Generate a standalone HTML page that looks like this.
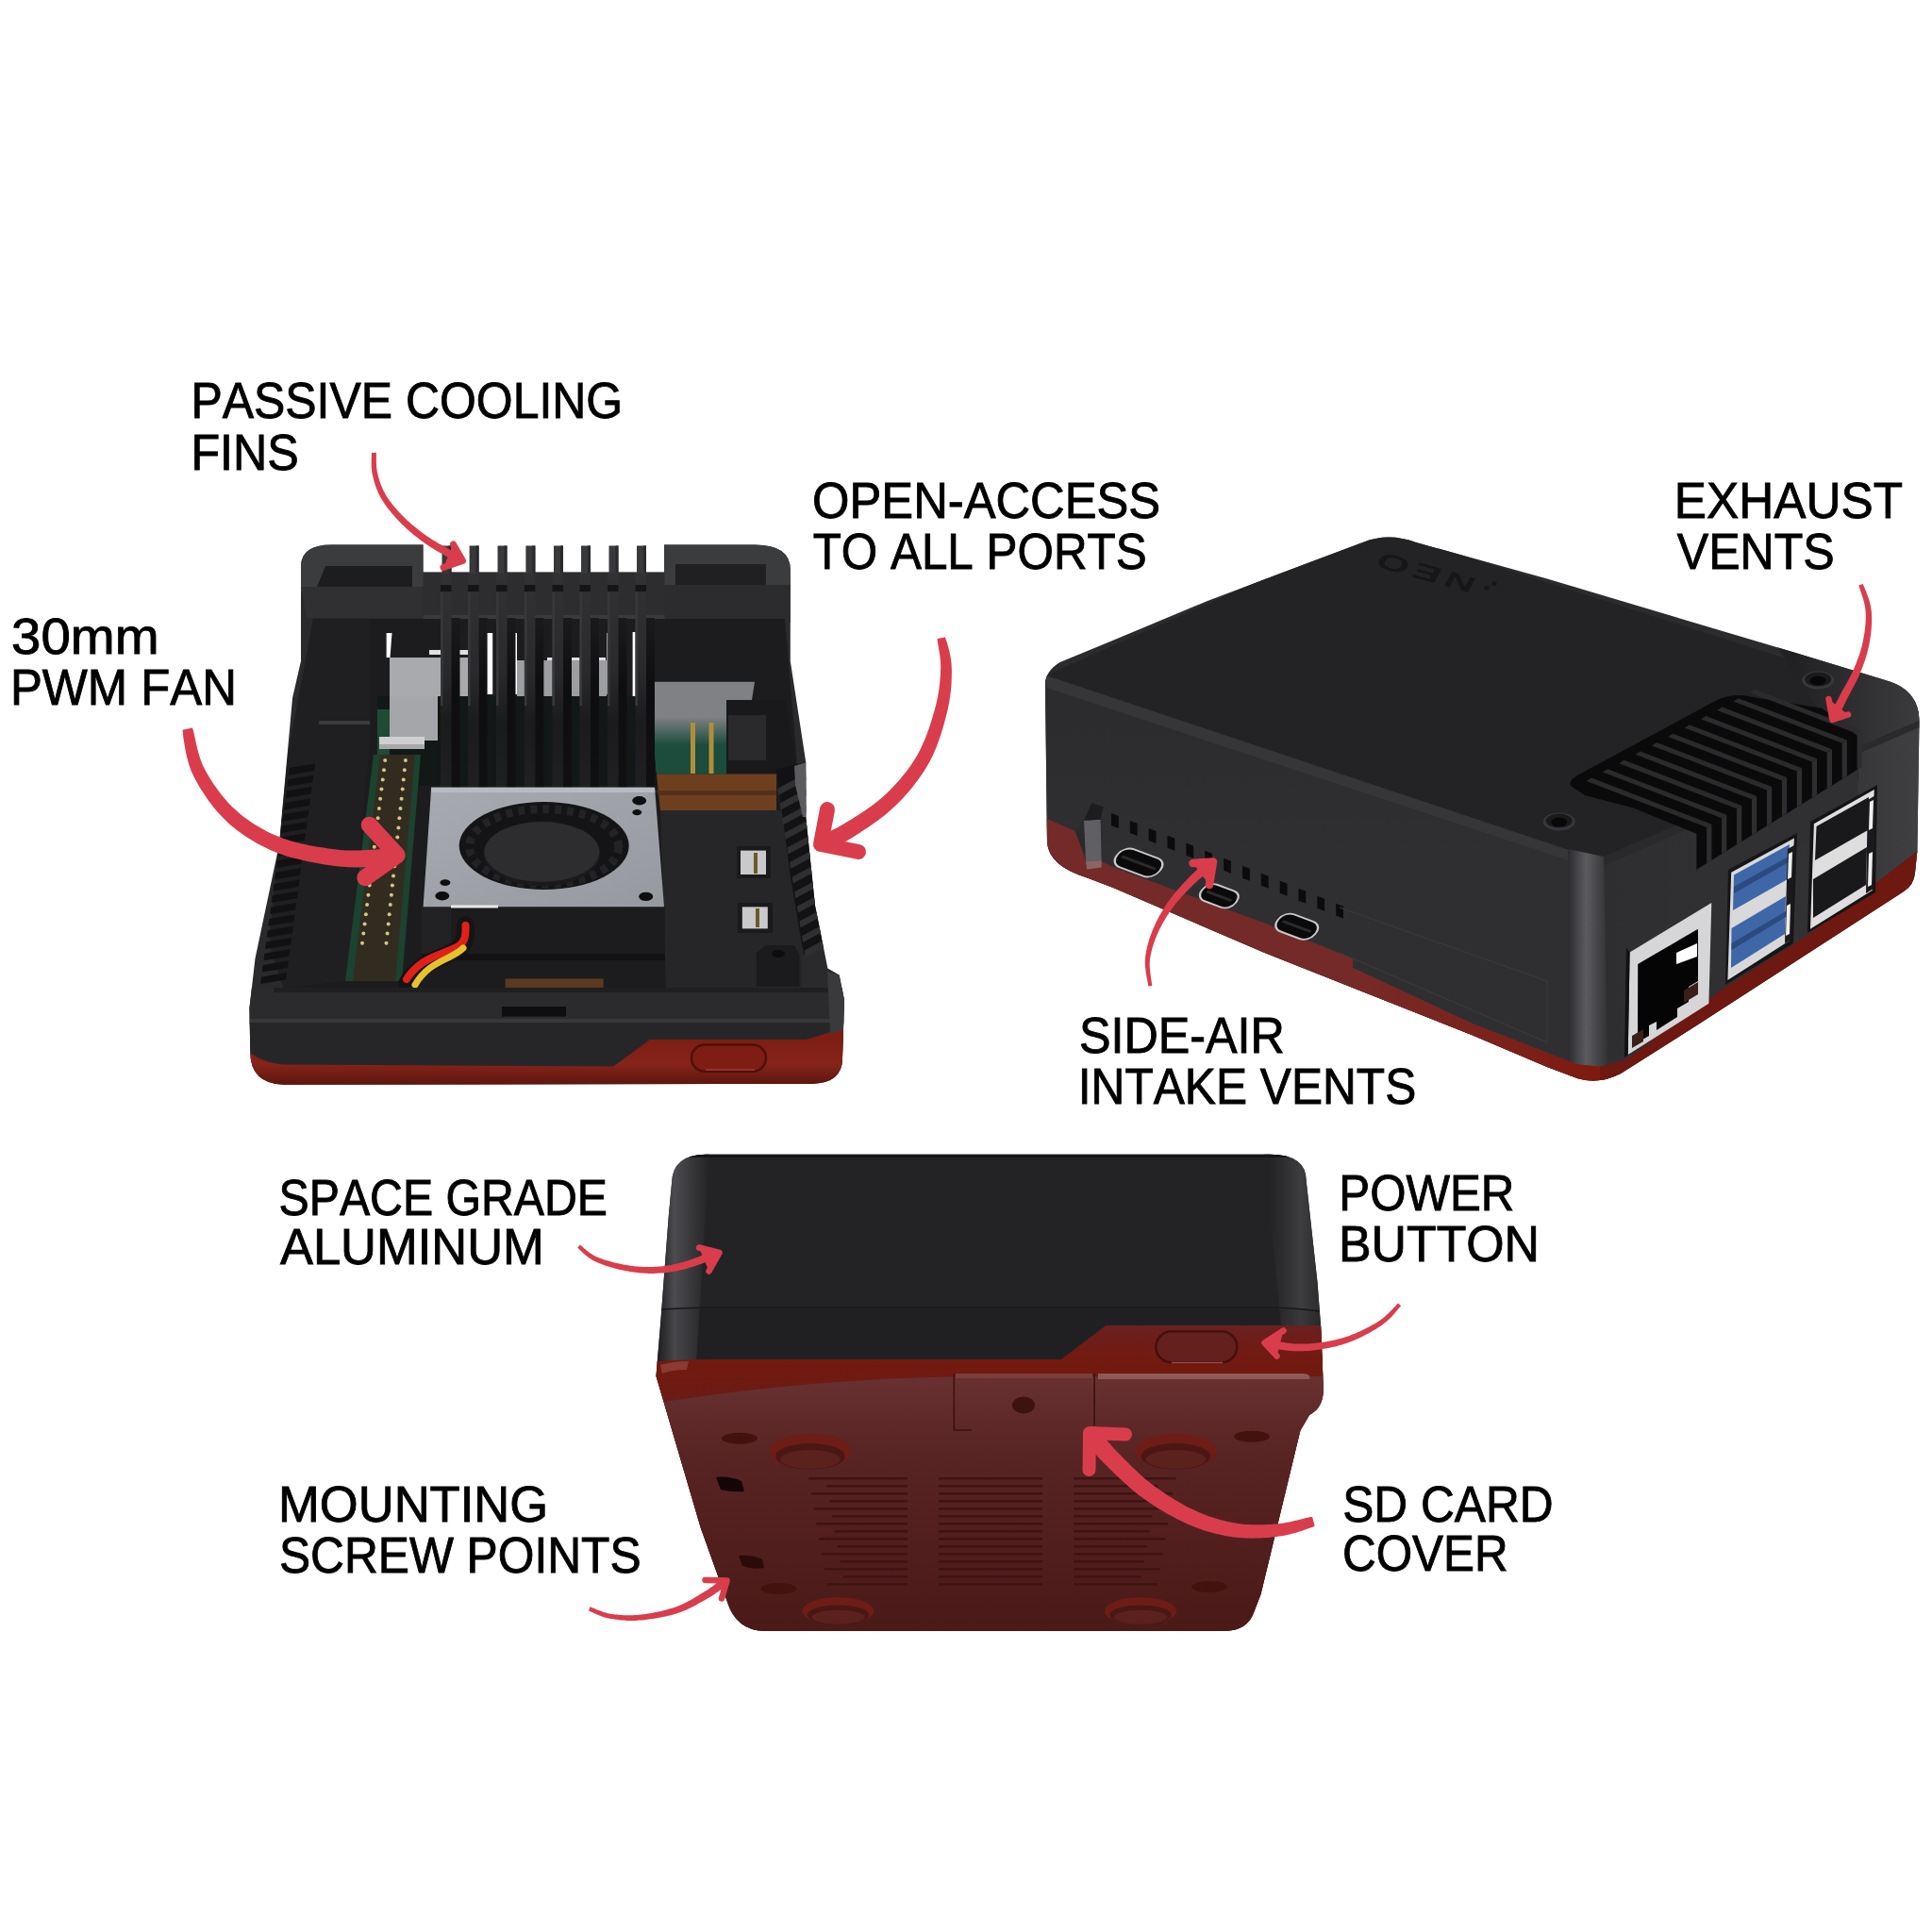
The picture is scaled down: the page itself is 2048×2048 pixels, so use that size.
<!DOCTYPE html>
<html><head><meta charset="utf-8"><title>Case features</title>
<style>
html,body{margin:0;padding:0;background:#fff;}
body{width:2048px;height:2048px;overflow:hidden;}
svg{display:block;}
text{font-family:"Liberation Sans",sans-serif;font-size:53.8px;fill:#000;font-kerning:none;stroke:#000;stroke-width:0.9px;}
</style></head><body>
<svg width="2048" height="2048" viewBox="0 0 2048 2048">
<defs>
<linearGradient id="gfin" x1="0" y1="607" x2="0" y2="835" gradientUnits="userSpaceOnUse"><stop offset="0" stop-color="#323234"/><stop offset="0.45" stop-color="#2a2a2c"/><stop offset="0.7" stop-color="#1b1b1d"/><stop offset="1" stop-color="#202022"/></linearGradient>
<linearGradient id="gfinside" x1="0" y1="655" x2="0" y2="835" gradientUnits="userSpaceOnUse"><stop offset="0" stop-color="#1a1a1c"/><stop offset="0.4" stop-color="#0e0e10"/><stop offset="1" stop-color="#101012"/></linearGradient>
<linearGradient id="gfan" x1="0" y1="0" x2="1" y2="1"><stop offset="0" stop-color="#a8aab2"/><stop offset="1" stop-color="#9799a1"/></linearGradient>
<linearGradient id="gred1" x1="0" y1="1100" x2="0" y2="1150" gradientUnits="userSpaceOnUse"><stop offset="0" stop-color="#7d1d13"/><stop offset="0.55" stop-color="#86241a"/><stop offset="1" stop-color="#5c150e"/></linearGradient>
<linearGradient id="gpcb" x1="0" y1="0" x2="0" y2="1"><stop offset="0" stop-color="#808184"/><stop offset="1" stop-color="#1b4c3c"/></linearGradient>

<linearGradient id="gright2" x1="1693" y1="0" x2="2036" y2="0" gradientUnits="userSpaceOnUse"><stop offset="0" stop-color="#2e2e30"/><stop offset="0.7" stop-color="#323235"/><stop offset="1" stop-color="#404043"/></linearGradient>
<linearGradient id="gtopr2" x1="1900" y1="0" x2="2036" y2="0" gradientUnits="userSpaceOnUse"><stop offset="0" stop-color="#212123"/><stop offset="1" stop-color="#3c3c3f"/></linearGradient>
<linearGradient id="gredL2" x1="1434" y1="0" x2="1690" y2="0" gradientUnits="userSpaceOnUse"><stop offset="0" stop-color="#762a27"/><stop offset="0.6" stop-color="#7a221c"/><stop offset="1" stop-color="#7e1a10"/></linearGradient>
<linearGradient id="gleft2" x1="1109" y1="716" x2="1109" y2="900" gradientUnits="userSpaceOnUse"><stop offset="0" stop-color="#2b2b2d"/><stop offset="1" stop-color="#2f2f32"/></linearGradient>
<linearGradient id="gcorner2" x1="1662" y1="0" x2="1705" y2="0" gradientUnits="userSpaceOnUse"><stop offset="0" stop-color="#2b2b2d"/><stop offset="0.45" stop-color="#5c5c60"/><stop offset="1" stop-color="#303032"/></linearGradient>

<linearGradient id="gl3" x1="695" y1="0" x2="752" y2="0" gradientUnits="userSpaceOnUse"><stop offset="0" stop-color="#1a1a1c"/><stop offset="0.35" stop-color="#4c4c50"/><stop offset="1" stop-color="#232325"/></linearGradient>
<linearGradient id="gr3" x1="1345" y1="0" x2="1402" y2="0" gradientUnits="userSpaceOnUse"><stop offset="0" stop-color="#232325"/><stop offset="0.6" stop-color="#3d3d40"/><stop offset="1" stop-color="#2a2a2c"/></linearGradient>
<linearGradient id="glip3" x1="0" y1="1405" x2="0" y2="1485" gradientUnits="userSpaceOnUse"><stop offset="0" stop-color="#6a2020"/><stop offset="0.5" stop-color="#73190f"/><stop offset="1" stop-color="#6a1c14"/></linearGradient>
<linearGradient id="gbot3" x1="0" y1="1465" x2="0" y2="1730" gradientUnits="userSpaceOnUse"><stop offset="0" stop-color="#683030"/><stop offset="0.3" stop-color="#582323"/><stop offset="1" stop-color="#4a1a18"/></linearGradient>
</defs>
<rect width="2048" height="2048" fill="#fff"/>
<g id="p1">
<path d="M351.5,577.6 L448.5,577.6 L448.5,606.6 L704,606.6 L704,577.6 L800,577.6 Q837.8,577.6 837.8,604 L837.8,700.8 L854.3,808.3 L854.3,866.4 L864,960 L870.4,991.4 L877.4,1026.6 L889.7,1033.6 L895,1060 L893,1121.6 Q893,1148.9 860,1148.9 L300.5,1149.8 Q265.3,1149 265.3,1114.6 L264.4,1068.8 L270.5,1016 L296,895 L310,740 L319,700.8 L319,600.5 Q319,577.6 351.5,577.6 Z" fill="#2a2a2c"/>
<clipPath id="c1"><path d="M351.5,577.6 L448.5,577.6 L448.5,606.6 L704,606.6 L704,577.6 L800,577.6 Q837.8,577.6 837.8,604 L837.8,700.8 L854.3,808.3 L854.3,866.4 L864,960 L870.4,991.4 L877.4,1026.6 L889.7,1033.6 L895,1060 L893,1121.6 Q893,1148.9 860,1148.9 L300.5,1149.8 Q265.3,1149 265.3,1114.6 L264.4,1068.8 L270.5,1016 L296,895 L310,740 L319,700.8 L319,600.5 Q319,577.6 351.5,577.6 Z"/></clipPath>
<g clip-path="url(#c1)">
<path d="M319,577 H449 V628 H319Z" fill="#3b3c3e"/>
<path d="M704,577 H838 V628 H704Z" fill="#3b3c3e"/>
<path d="M345,600 H437 V622 H336Z" fill="#1d1d1f"/>
<path d="M716,598 H812 V620 H716Z" fill="#202022"/>
<path d="M319,622 H449 V655 H325Z" fill="#303032"/>
<path d="M704,620 H838 V660 H704Z" fill="#2c2c2e"/>
<rect x="448.5" y="606.6" width="256" height="49" fill="#2d2d2f"/>
<rect x="448.5" y="652" width="256" height="4" fill="#3a3a3c"/>
<path d="M332,656 L832,656 L845,810 L850,1047 L300,1047 L300,900 L318,740Z" fill="#1c1c1e"/>
<path d="M332,656 L392,656 L392,790 L368,1040 L300,1047 L285,1000 L305,800Z" fill="#1f1f21"/>
<path d="M338,764 L392,764 L392,768 L338,768Z" fill="#3a3a3c"/>
<path d="M409.6,671 H415.5 L413.5,697 H409.6Z" fill="#fff"/>
<rect x="511.7" y="671" width="10.5" height="65" fill="#fff"/>
<rect x="539" y="671" width="9" height="65" fill="#fff"/>
<rect x="643.4" y="671" width="3" height="65" fill="#e8e8e8"/>
<rect x="670.6" y="670" width="5.5" height="70" fill="#fff"/>
<rect x="580" y="697" width="62" height="4" fill="#e0e0e0"/>
<rect x="455" y="689" width="50" height="5" fill="#e0e0e0"/>
<path d="M413,697 H508 V738 H464 V785 H413Z" fill="#a9aaad"/>
<rect x="548" y="700" width="95" height="38" fill="#9d9ea1"/>
<rect x="400" y="738" width="300" height="95" fill="#121815"/>
<path d="M413,738 H464 V785 H413Z" fill="#a5a6a9"/>
<path d="M400,752 L413,752 L413,800 L400,800Z" fill="#1f4a33"/>
<rect x="402" y="781" width="48" height="13" fill="#d0d0d3"/>
<rect x="402" y="789" width="48" height="5" fill="#a8a8ab"/>
<path d="M689,722.8 H800 L797,742 H770 V820 H696Z" fill="#808184"/>
<path d="M692,780 H770 V820.5 H696Z" fill="#1b4c3c"/>
<path d="M692,760 H770 V790 H692Z" fill="url(#gpcb)"/>
<rect x="732" y="766" width="5" height="54" fill="#b08d3c"/>
<rect x="751.5" y="766" width="5" height="54" fill="#b08d3c"/>
<path d="M696,820.5 H823 V859 H700Z" fill="#6e3f1f"/>
<path d="M696,838 H823 V843 H698Z" fill="#54301a"/>
<path d="M770,742 H832 L845,820 H770Z" fill="#19191b"/>
<path d="M772,758 H812 V806 H772Z" fill="#2a2a2c"/>
<path d="M700,859 H850 V1047 H706Z" fill="#262628"/>
<path d="M823,815 L854,808 L856,870 L866,960 L872,1000 L852,1012 L838,930Z" fill="#121214"/>
<path d="M824.0,836.0 L854.0,820.0 L855.0,827.0 L825.0,843.0Z" fill="#2f2f31"/>
<path d="M826.6,851.6 L856.6,835.6 L857.6,842.6 L827.6,858.6Z" fill="#2f2f31"/>
<path d="M829.2,867.2 L859.2,851.2 L860.2,858.2 L830.2,874.2Z" fill="#2f2f31"/>
<path d="M831.8,882.8 L861.8,866.8 L862.8,873.8 L832.8,889.8Z" fill="#2f2f31"/>
<path d="M834.4,898.4 L864.4,882.4 L865.4,889.4 L835.4,905.4Z" fill="#2f2f31"/>
<path d="M837.0,914.0 L867.0,898.0 L868.0,905.0 L838.0,921.0Z" fill="#2f2f31"/>
<path d="M839.6,929.6 L869.6,913.6 L870.6,920.6 L840.6,936.6Z" fill="#2f2f31"/>
<path d="M842.2,945.2 L872.2,929.2 L873.2,936.2 L843.2,952.2Z" fill="#2f2f31"/>
<path d="M844.8,960.8 L874.8,944.8 L875.8,951.8 L845.8,967.8Z" fill="#2f2f31"/>
<path d="M847.4,976.4 L877.4,960.4 L878.4,967.4 L848.4,983.4Z" fill="#2f2f31"/>
<path d="M850.0,992.0 L880.0,976.0 L881.0,983.0 L851.0,999.0Z" fill="#2f2f31"/>
<path d="M852.6,1007.6 L882.6,991.6 L883.6,998.6 L853.6,1014.6Z" fill="#2f2f31"/>
<path d="M842,812 L854.3,808.3 L854.3,866 L851,866 L843,832Z" fill="#5c5c60"/>
<rect x="781" y="897" width="36" height="34" fill="#1a1a1c"/>
<rect x="785" y="901.6" width="27" height="25.4" fill="#c9c9cc"/>
<rect x="799" y="904" width="4" height="22" fill="#6a5a2a"/>
<rect x="782" y="957" width="37" height="32" fill="#1a1a1c"/>
<rect x="786.8" y="961.4" width="27" height="23" fill="#c9c9cc"/>
<rect x="801" y="963" width="4" height="20" fill="#6a5a2a"/>
<path d="M801.8,1010 L812,1002 L842,1002 L847.5,1012 L847.5,1046 L801.8,1046Z" fill="#1b1b1d"/>
<ellipse cx="825" cy="1011" rx="7" ry="4" fill="#0c0c0d"/>
<path d="M396,800 L446,800 L426,1040 L366,1040Z" fill="#1c4230"/>
<path d="M403,800 L440,800 L419,1040 L374,1040Z" fill="#322c20"/>
<circle cx="408.2" cy="806.0" r="2" fill="#d8c486"/><circle cx="429.9" cy="806.0" r="2" fill="#d8c486"/>
<circle cx="407.0" cy="816.2" r="2" fill="#d8c486"/><circle cx="428.8" cy="816.2" r="2" fill="#d8c486"/>
<circle cx="405.7" cy="826.4" r="2" fill="#d8c486"/><circle cx="427.7" cy="826.4" r="2" fill="#d8c486"/>
<circle cx="404.4" cy="836.6" r="2" fill="#d8c486"/><circle cx="426.7" cy="836.6" r="2" fill="#d8c486"/>
<circle cx="403.1" cy="846.8" r="2" fill="#d8c486"/><circle cx="425.6" cy="846.8" r="2" fill="#d8c486"/>
<circle cx="401.9" cy="857.0" r="2" fill="#d8c486"/><circle cx="424.5" cy="857.0" r="2" fill="#d8c486"/>
<circle cx="400.6" cy="867.2" r="2" fill="#d8c486"/><circle cx="423.4" cy="867.2" r="2" fill="#d8c486"/>
<circle cx="399.3" cy="877.4" r="2" fill="#d8c486"/><circle cx="422.4" cy="877.4" r="2" fill="#d8c486"/>
<circle cx="398.1" cy="887.6" r="2" fill="#d8c486"/><circle cx="421.3" cy="887.6" r="2" fill="#d8c486"/>
<circle cx="396.8" cy="897.8" r="2" fill="#d8c486"/><circle cx="420.2" cy="897.8" r="2" fill="#d8c486"/>
<circle cx="395.5" cy="908.0" r="2" fill="#d8c486"/><circle cx="419.2" cy="908.0" r="2" fill="#d8c486"/>
<circle cx="394.2" cy="918.2" r="2" fill="#d8c486"/><circle cx="418.1" cy="918.2" r="2" fill="#d8c486"/>
<circle cx="392.9" cy="928.4" r="2" fill="#d8c486"/><circle cx="417.0" cy="928.4" r="2" fill="#d8c486"/>
<circle cx="391.7" cy="938.6" r="2" fill="#d8c486"/><circle cx="415.9" cy="938.6" r="2" fill="#d8c486"/>
<circle cx="390.4" cy="948.8" r="2" fill="#d8c486"/><circle cx="414.9" cy="948.8" r="2" fill="#d8c486"/>
<circle cx="389.1" cy="959.0" r="2" fill="#d8c486"/><circle cx="413.8" cy="959.0" r="2" fill="#d8c486"/>
<circle cx="387.9" cy="969.2" r="2" fill="#d8c486"/><circle cx="412.7" cy="969.2" r="2" fill="#d8c486"/>
<circle cx="386.6" cy="979.4" r="2" fill="#d8c486"/><circle cx="411.7" cy="979.4" r="2" fill="#d8c486"/>
<circle cx="385.3" cy="989.6" r="2" fill="#d8c486"/><circle cx="410.6" cy="989.6" r="2" fill="#d8c486"/>
<circle cx="384.0" cy="999.8" r="2" fill="#d8c486"/><circle cx="409.5" cy="999.8" r="2" fill="#d8c486"/>
<path d="M307.0,814.0 L334.0,809.5 L333.0,817.0 L306.0,821.5Z" fill="#111113"/>
<path d="M305.3,826.3 L332.3,821.8 L331.3,829.3 L304.3,833.8Z" fill="#111113"/>
<path d="M303.7,838.6 L330.7,834.1 L329.7,841.6 L302.7,846.1Z" fill="#111113"/>
<path d="M302.0,850.9 L329.0,846.4 L328.0,853.9 L301.0,858.4Z" fill="#111113"/>
<path d="M300.4,863.2 L327.4,858.7 L326.4,866.2 L299.4,870.7Z" fill="#111113"/>
<path d="M298.7,875.5 L325.7,871.0 L324.7,878.5 L297.7,883.0Z" fill="#111113"/>
<path d="M297.0,887.8 L324.0,883.3 L323.0,890.8 L296.0,895.3Z" fill="#111113"/>
<path d="M295.4,900.1 L322.4,895.6 L321.4,903.1 L294.4,907.6Z" fill="#111113"/>
<path d="M293.7,912.4 L320.7,907.9 L319.7,915.4 L292.7,919.9Z" fill="#111113"/>
<path d="M292.1,924.7 L319.1,920.2 L318.1,927.7 L291.1,932.2Z" fill="#111113"/>
<path d="M290.4,937.0 L317.4,932.5 L316.4,940.0 L289.4,944.5Z" fill="#111113"/>
<path d="M288.7,949.3 L315.7,944.8 L314.7,952.3 L287.7,956.8Z" fill="#111113"/>
<path d="M287.1,961.6 L314.1,957.1 L313.1,964.6 L286.1,969.1Z" fill="#111113"/>
<path d="M285.4,973.9 L312.4,969.4 L311.4,976.9 L284.4,981.4Z" fill="#111113"/>
<path d="M283.8,986.2 L310.8,981.7 L309.8,989.2 L282.8,993.7Z" fill="#111113"/>
<path d="M282.1,998.5 L309.1,994.0 L308.1,1001.5 L281.1,1006.0Z" fill="#111113"/>
<path d="M280.4,1010.8 L307.4,1006.3 L306.4,1013.8 L279.4,1018.3Z" fill="#111113"/>
<path d="M278.8,1023.1 L305.8,1018.6 L304.8,1026.1 L277.8,1030.6Z" fill="#111113"/>
<path d="M277.1,1035.4 L304.1,1030.9 L303.1,1038.4 L276.1,1042.9Z" fill="#111113"/>
<rect x="478.0" y="655" width="9.5" height="180" fill="url(#gfinside)"/>
<rect x="467.0" y="607" width="11.5" height="228" fill="url(#gfin)"/>
<rect x="467.0" y="628" width="2.5" height="120" fill="#38383a"/>
<rect x="467.0" y="620" width="11.5" height="7" fill="#151517"/>
<rect x="507.1" y="655" width="9.5" height="180" fill="url(#gfinside)"/>
<rect x="496.1" y="607" width="11.5" height="228" fill="url(#gfin)"/>
<rect x="496.1" y="628" width="2.5" height="120" fill="#38383a"/>
<rect x="496.1" y="620" width="11.5" height="7" fill="#151517"/>
<rect x="537.0" y="655" width="9.5" height="180" fill="url(#gfinside)"/>
<rect x="526.0" y="607" width="11.5" height="228" fill="url(#gfin)"/>
<rect x="526.0" y="628" width="2.5" height="120" fill="#38383a"/>
<rect x="526.0" y="620" width="11.5" height="7" fill="#151517"/>
<rect x="566.9" y="655" width="9.5" height="180" fill="url(#gfinside)"/>
<rect x="555.9" y="607" width="11.5" height="228" fill="url(#gfin)"/>
<rect x="555.9" y="628" width="2.5" height="120" fill="#38383a"/>
<rect x="555.9" y="620" width="11.5" height="7" fill="#151517"/>
<rect x="596.5" y="655" width="9.5" height="180" fill="url(#gfinside)"/>
<rect x="585.5" y="607" width="11.5" height="228" fill="url(#gfin)"/>
<rect x="585.5" y="628" width="2.5" height="120" fill="#38383a"/>
<rect x="585.5" y="620" width="11.5" height="7" fill="#151517"/>
<rect x="625.5" y="655" width="9.5" height="180" fill="url(#gfinside)"/>
<rect x="614.5" y="607" width="11.5" height="228" fill="url(#gfin)"/>
<rect x="614.5" y="628" width="2.5" height="120" fill="#38383a"/>
<rect x="614.5" y="620" width="11.5" height="7" fill="#151517"/>
<rect x="655.0" y="655" width="9.5" height="180" fill="url(#gfinside)"/>
<rect x="644.0" y="607" width="11.5" height="228" fill="url(#gfin)"/>
<rect x="644.0" y="628" width="2.5" height="120" fill="#38383a"/>
<rect x="644.0" y="620" width="11.5" height="7" fill="#151517"/>
<rect x="684.5" y="655" width="9.5" height="180" fill="url(#gfinside)"/>
<rect x="673.5" y="607" width="11.5" height="228" fill="url(#gfin)"/>
<rect x="673.5" y="628" width="2.5" height="120" fill="#38383a"/>
<rect x="673.5" y="620" width="11.5" height="7" fill="#151517"/>
<path d="M447,961 L704.8,961 L704.8,1011 L447,1011Z" fill="#1c1c1e"/>
<path d="M447,961 L478,961 L478,1011 L447,1011Z" fill="#222224"/>
<path d="M447,1011 H704.8 V1018 H447Z" fill="#121214"/>
<path d="M457.2,834.8 L694,834.8 L704,961.3 L448.6,961.3Z" fill="url(#gfan)"/>
<path d="M457.2,834.8 L694,834.8 L694.4,840 L456.8,840Z" fill="#b9bbc3"/>
<path d="M478,959.5 L528,959.5 L528,962.5 L478,962.5Z" fill="#e8e8ec"/>
<ellipse cx="576.7" cy="896.5" rx="90" ry="46.5" fill="#141416"/>
<ellipse cx="576.7" cy="897.5" rx="79" ry="40" fill="none" stroke="#232325" stroke-width="9" stroke-dasharray="7 6"/>
<ellipse cx="574.4" cy="905.5" rx="62" ry="33.5" fill="#1a1a1c"/>
<ellipse cx="574.4" cy="903" rx="61" ry="32" fill="#2d2d2f"/>
<ellipse cx="677.7" cy="848.7" rx="7.5" ry="4.7" fill="#0e0e10"/>
<ellipse cx="675.3" cy="861.1" rx="5" ry="3.1" fill="#0e0e10"/>
<ellipse cx="684.7" cy="950.4" rx="7.5" ry="4.7" fill="#0e0e10"/>
<ellipse cx="468.8" cy="949.7" rx="7.5" ry="4.7" fill="#0e0e10"/>
<ellipse cx="471.9" cy="935.7" rx="5.5" ry="3.4" fill="#0e0e10"/>
<path d="M493.5,981 C494,992 493,1000 486,1006 C470,1016 446,1018 432,1042" fill="none" stroke="#141414" stroke-width="19" stroke-linecap="round"/>
<path d="M493.5,981 C494,992 493,998 486,1003 C470,1012 446,1014 431,1038" fill="none" stroke="#e0201a" stroke-width="8" stroke-linecap="round"/>
<path d="M491,1005 C478,1018 455,1018 440,1044" fill="none" stroke="#e6c22f" stroke-width="7" stroke-linecap="round"/>
<rect x="535.6" y="1037.4" width="104" height="9.5" fill="#5a3a20"/>
<path d="M262,1047 H897 V1086 H262Z" fill="#2b2b2d"/>
<path d="M290,1047 H880 V1052 H290Z" fill="#1f1f21"/>
<path d="M262,1080 H897 V1084 H262Z" fill="#38383a"/>
<rect x="532" y="1067" width="68" height="10.6" fill="#0e0e0f"/>
<path d="M262,1084 H897 V1135 H262Z" fill="#262628"/>
<path d="M262,1114 Q280,1127 300,1128.6 L650.4,1130.4 L689,1102 L854.5,1102 L890,1091 L900,1091 L900,1155 L262,1155Z" fill="url(#gred1)"/>
<rect x="733" y="1107.5" width="79" height="28.2" rx="14" fill="#7e1d14" stroke="#4e100b" stroke-width="2.5"/>
<path d="M748,1134 H800" stroke="#a33a30" stroke-width="1.5"/>
<path d="M877,1030 L890,1034 L895,1060 L894,1092 L880,1096Z" fill="#3a3a3d"/>
</g>
<rect x="468.5" y="578.5" width="10" height="29" fill="#38393b"/>
<rect x="475.5" y="578.5" width="3" height="29" fill="#2a2a2c"/>
<rect x="497.6" y="578.5" width="10" height="29" fill="#38393b"/>
<rect x="504.6" y="578.5" width="3" height="29" fill="#2a2a2c"/>
<rect x="527.5" y="578.5" width="10" height="29" fill="#38393b"/>
<rect x="534.5" y="578.5" width="3" height="29" fill="#2a2a2c"/>
<rect x="557.4" y="578.5" width="10" height="29" fill="#38393b"/>
<rect x="564.4" y="578.5" width="3" height="29" fill="#2a2a2c"/>
<rect x="587.0" y="578.5" width="10" height="29" fill="#38393b"/>
<rect x="594.0" y="578.5" width="3" height="29" fill="#2a2a2c"/>
<rect x="616.0" y="578.5" width="10" height="29" fill="#38393b"/>
<rect x="623.0" y="578.5" width="3" height="29" fill="#2a2a2c"/>
<rect x="645.5" y="578.5" width="10" height="29" fill="#38393b"/>
<rect x="652.5" y="578.5" width="3" height="29" fill="#2a2a2c"/>
<rect x="675.0" y="578.5" width="10" height="29" fill="#38393b"/>
<rect x="682.0" y="578.5" width="3" height="29" fill="#2a2a2c"/>
</g>
<g id="p2">
<path d="M1108,728 Q1107,712 1123.6,702 L1177,680 L1280,637 L1380,599.2 L1444.6,575 Q1471.5,564 1501,575 L1640,613.4 L1900,691.1 L2003.5,722.5 Q2034,733 2034.5,763.9 L2032.4,901.9 L2030,925 Q2029,938 2018,945 L1800,1086 L1718,1138 Q1695,1150 1672,1143 L1640,1131 L1560,1097.1 L1340,1009.8 L1180,941 L1151.8,930.2 Q1112,918 1110,893 Z" fill="#2b2b2d"/>
<clipPath id="c2"><path d="M1108,728 Q1107,712 1123.6,702 L1177,680 L1280,637 L1380,599.2 L1444.6,575 Q1471.5,564 1501,575 L1640,613.4 L1900,691.1 L2003.5,722.5 Q2034,733 2034.5,763.9 L2032.4,901.9 L2030,925 Q2029,938 2018,945 L1800,1086 L1718,1138 Q1695,1150 1672,1143 L1640,1131 L1560,1097.1 L1340,1009.8 L1180,941 L1151.8,930.2 Q1112,918 1110,893 Z"/></clipPath>
<g clip-path="url(#c2)">
<path d="M1100,716 L1693,911 L1693,1160 L1100,930Z" fill="url(#gleft2)"/>
<path d="M1693,911 L2040,762 L2040,960 L1693,1160Z" fill="url(#gright2)"/>
<path d="M1100,720 L1109,716 L1460,560 L2040,745 L2034,764 L1693,911Z" fill="#232325"/>
<path d="M1880,680 L2040,735 L2040,770 L1960,800Z" fill="url(#gtopr2)"/>
<path d="M1109,716 L1693,911 L1693,922 L1109,729Z" fill="#363639"/>
<path d="M1693,911 L2034,764 L2034,771 L1693,921Z" fill="#2a2a2c"/>
<path d="M1662,900 L1700,908 L1705,1160 L1662,1140Z" fill="url(#gcorner2)"/>
<path d="M1100,863.5 L1139.7,881.1 L1148,903 L1180,919.3 L1340,978.3 L1434,1016 L1434,1026 L1560,1084.7 L1671.8,1128.2 L1700,1131 L1700,1170 L1100,940Z" fill="#742a28"/>
<path d="M1434,1026 L1560,1084.7 L1672,1128.2 L1700,1131 L1700,1170 L1434,1060Z" fill="url(#gredL2)"/>
<path d="M1696,1131 L1723.8,1122.9 L1828.6,1046.7 L1916.2,991.4 L2032.4,901.9 L2045,895 L2045,960 L1696,1170Z" fill="#6d1810"/>
<path d="M1139.7,881.1 L1149,869.7 L1151.1,913.2 L1148,903Z" fill="#2a2a2c"/>
<path d="M1149,869.7 L1166.6,868.7 L1167.6,912.1 L1151.1,913.2Z" fill="#606064"/>
<path d="M1149,869.7 L1157.3,851.1 L1169.7,855.2 L1166.6,868.7Z" fill="#1d1d1f"/>
<path d="M1151.1,913.2 L1167.6,912.1 L1167.6,919.5 L1152.1,921.5Z" fill="#8a6666"/>
<path d="M1178.0,861.9 L1185.8,864.9 L1185.8,877.9 L1178.0,874.9Z" fill="#0b0b0c"/>
<path d="M1197.8,869.9 L1205.6,872.9 L1205.6,885.9 L1197.8,882.9Z" fill="#0b0b0c"/>
<path d="M1217.7,877.9 L1225.5,880.9 L1225.5,893.9 L1217.7,890.9Z" fill="#0b0b0c"/>
<path d="M1237.5,885.8 L1245.3,888.8 L1245.3,901.8 L1237.5,898.8Z" fill="#0b0b0c"/>
<path d="M1257.4,893.8 L1265.2,896.8 L1265.2,909.8 L1257.4,906.8Z" fill="#0b0b0c"/>
<path d="M1277.2,901.8 L1285.0,904.8 L1285.0,917.8 L1277.2,914.8Z" fill="#0b0b0c"/>
<path d="M1297.1,909.8 L1304.9,912.8 L1304.9,925.8 L1297.1,922.8Z" fill="#0b0b0c"/>
<path d="M1317.0,917.8 L1324.8,920.8 L1324.8,933.8 L1317.0,930.8Z" fill="#0b0b0c"/>
<path d="M1336.8,925.7 L1344.6,928.7 L1344.6,941.7 L1336.8,938.7Z" fill="#0b0b0c"/>
<path d="M1356.7,933.7 L1364.5,936.7 L1364.5,949.7 L1356.7,946.7Z" fill="#0b0b0c"/>
<path d="M1376.5,941.7 L1384.3,944.7 L1384.3,957.7 L1376.5,954.7Z" fill="#0b0b0c"/>
<path d="M1396.3,949.7 L1404.1,952.7 L1404.1,965.7 L1396.3,962.7Z" fill="#0b0b0c"/>
<path d="M1416.2,957.7 L1424.0,960.7 L1424.0,973.7 L1416.2,970.7Z" fill="#0b0b0c"/>
<g transform="translate(1207,914.5) rotate(20.5) skewX(-18)"><rect x="-24.0" y="-11.5" width="48" height="23" rx="10.454545454545453" fill="#0a0a0b" stroke="#c9c9cc" stroke-width="2"/><rect x="-19.0" y="-1.5" width="38" height="3" fill="#2a2a2c"/></g>
<g transform="translate(1292.4,949.8) rotate(20.5) skewX(-18)"><rect x="-19.0" y="-10.5" width="38" height="21" rx="9.545454545454545" fill="#0a0a0b" stroke="#c9c9cc" stroke-width="2"/><rect x="-14.0" y="-1.5" width="28" height="3" fill="#2a2a2c"/></g>
<g transform="translate(1374.7,982.2) rotate(20.5) skewX(-18)"><rect x="-21.0" y="-11.0" width="42" height="22" rx="10.0" fill="#0a0a0b" stroke="#c9c9cc" stroke-width="2"/><rect x="-16.0" y="-1.5" width="32" height="3" fill="#2a2a2c"/></g>
<path d="M1420,962 L1640,1040 L1640,1105 L1420,1010" fill="none" stroke="#3a3a3d" stroke-width="1.2"/>
<g transform="matrix(-1.06,-0.30,0.3,-0.55,1567,613.8)"><text x="0" y="0" style="font-size:40px;font-weight:bold;letter-spacing:5px;fill:#161618;stroke:none">NEO</text></g><circle cx="1576" cy="623" r="2.6" fill="#161618"/><circle cx="1584" cy="618.5" r="2.6" fill="#161618"/>
<path d="M1665.3,833 Q1662,828 1672,822 L1822,741 Q1840.6,734 1858,739 L1931.4,750.7 L1969.5,780.3 L1969.5,826.7 L1798.4,925 L1798.4,883.7 L1730.8,856.3 L1680,843Z" fill="#0a0a0b"/>
<path d="M1809.1,877.1 L1814.4,873.8 L1687.0,824.6 L1681.7,827.9Z" fill="#2b2b2d"/>
<path d="M1809.1,877.1 L1814.4,873.8 L1814.4,911.8 L1809.1,915.1Z" fill="#2e2e30"/>
<path d="M1825.1,867.2 L1830.3,863.8 L1704.3,815.2 L1699.0,818.6Z" fill="#2b2b2d"/>
<path d="M1825.1,867.2 L1830.3,863.8 L1830.3,901.8 L1825.1,905.2Z" fill="#2e2e30"/>
<path d="M1841.0,857.2 L1846.3,853.9 L1721.6,805.8 L1716.3,809.2Z" fill="#2b2b2d"/>
<path d="M1841.0,857.2 L1846.3,853.9 L1846.3,891.9 L1841.0,895.2Z" fill="#2e2e30"/>
<path d="M1857.0,847.3 L1862.2,844.0 L1738.9,796.5 L1733.6,799.8Z" fill="#2b2b2d"/>
<path d="M1857.0,847.3 L1862.2,844.0 L1862.2,882.0 L1857.0,885.3Z" fill="#2e2e30"/>
<path d="M1872.9,837.4 L1878.2,834.1 L1756.2,787.1 L1751.0,790.4Z" fill="#2b2b2d"/>
<path d="M1872.9,837.4 L1878.2,834.1 L1878.2,872.1 L1872.9,875.4Z" fill="#2e2e30"/>
<path d="M1888.9,827.5 L1894.1,824.1 L1773.5,777.7 L1768.3,781.0Z" fill="#2b2b2d"/>
<path d="M1888.9,827.5 L1894.1,824.1 L1894.1,862.1 L1888.9,865.5Z" fill="#2e2e30"/>
<path d="M1904.8,817.5 L1910.1,814.2 L1790.8,768.3 L1785.6,771.6Z" fill="#2b2b2d"/>
<path d="M1904.8,817.5 L1910.1,814.2 L1910.1,852.2 L1904.8,855.5Z" fill="#2e2e30"/>
<path d="M1920.8,807.6 L1926.0,804.3 L1808.2,758.9 L1802.9,762.3Z" fill="#2b2b2d"/>
<path d="M1920.8,807.6 L1926.0,804.3 L1926.0,842.3 L1920.8,845.6Z" fill="#2e2e30"/>
<path d="M1936.7,797.7 L1942.0,794.3 L1825.5,749.5 L1820.2,752.9Z" fill="#2b2b2d"/>
<path d="M1936.7,797.7 L1942.0,794.3 L1942.0,832.3 L1936.7,835.7Z" fill="#2e2e30"/>
<path d="M1952.7,787.7 L1957.9,784.4 L1842.8,740.2 L1837.5,743.5Z" fill="#2b2b2d"/>
<path d="M1952.7,787.7 L1957.9,784.4 L1957.9,822.4 L1952.7,825.7Z" fill="#2e2e30"/>
<path d="M1968.6,777.8 L1973.9,774.5 L1860.1,730.8 L1854.8,734.1Z" fill="#2b2b2d"/>
<path d="M1968.6,777.8 L1973.9,774.5 L1973.9,812.5 L1968.6,815.8Z" fill="#2e2e30"/>
<path d="M1798.4,921.7 L1969.5,815.5 L1969.5,860 L1798.4,960Z" fill="#303032"/>
<ellipse cx="1927.2" cy="721.1" rx="17" ry="9.5" fill="#38383b"/><ellipse cx="1927.2" cy="720.1" rx="14" ry="7.5" fill="#1a1a1c"/><ellipse cx="1927.2" cy="721.6" rx="8.5" ry="4.8" fill="#070708"/>
<ellipse cx="1652.7" cy="871" rx="17" ry="9.5" fill="#38383b"/><ellipse cx="1652.7" cy="870" rx="14" ry="7.5" fill="#1a1a1c"/><ellipse cx="1652.7" cy="871.5" rx="8.5" ry="4.8" fill="#070708"/>
<path d="M1727.6,1009.5 L1814.3,957.1 L1811.4,1063.8 L1725.7,1118.1Z" fill="#d6d6d9"/>
<path d="M1724,1005 L1727.6,1009.5 L1725.7,1118.1 L1722,1121Z" fill="#111"/>
<path d="M1736.2,1021.9 L1800,984.8 L1800,1040 L1790,1046 L1790,1062 L1778,1069 L1778,1078 L1756,1092 L1756,1083 L1748,1087 L1748,1098 L1736,1105Z" fill="#050505"/>
<path d="M1777,1010 L1799,1000 L1799,1014 L1777,1022Z" fill="#fff"/>
<path d="M1785,1050 L1800,1041 L1800,1054 L1785,1063Z" fill="#3a2018"/>
<path d="M1730,1098 L1742,1091 L1742,1104 L1730,1111Z" fill="#3a2018"/>
<path d="M1832,922 L1905,883 L1901,1000 L1829,1044Z" fill="#161618"/>
<path d="M1835.2,924.8 L1901.9,888.6 L1897.1,997.1 L1831.4,1039Z" fill="#d9d9dc"/>
<path d="M1838,927.5 L1897,895 L1895,932 L1837,965Z" fill="#3f66a6"/>
<path d="M1838,940 L1896,908 L1896,914 L1838,947Z" fill="#2b4a80"/>
<path d="M1835.5,984 L1893,950 L1892,990 L1835,1026Z" fill="#3f66a6"/>
<path d="M1835.5,1000 L1893,966 L1893,972 L1835.5,1007Z" fill="#2b4a80"/>
<path d="M1895,900 L1902,896 L1899,996 L1892,1000Z" fill="#1a1a1c"/>
<path d="M1896,905 L1900,903 L1899,930 L1895,932Z" fill="#eee"/>
<path d="M1894,960 L1898,958 L1897,990 L1893,992Z" fill="#eee"/>
<path d="M1919,871 L1990,832 L1988,946 L1916,989Z" fill="#141416"/>
<path d="M1922.9,873.3 L1986.7,837.1 L1984.8,943.8 L1919,984.8Z" fill="#dededf"/>
<path d="M1925.5,876 L1981,845 L1980,880 L1924,912Z" fill="#19191b"/>
<path d="M1922,932 L1979,898 L1978,938 L1922,973Z" fill="#19191b"/>
<path d="M1980,848 L1988,843 L1986,942 L1978,947Z" fill="#1a1a1c"/>
<path d="M1982,850 L1986,848 L1985,878 L1981,880Z" fill="#eee"/>
<path d="M1981,905 L1985,903 L1984,938 L1980,940Z" fill="#eee"/>
</g></g>
<g id="p3">
<path d="M748.3,1223.8 L1346.4,1223.8 Q1384.7,1224 1384.7,1251.8 L1396.6,1360 L1400.2,1407 L1402.8,1470 Q1403.8,1492 1388,1500 L1378.4,1516.4 L1336.5,1690 L1329,1709.6 Q1322,1729 1297.6,1729 L809.8,1729 Q780,1728 770.8,1697.6 L742.9,1620 L695.5,1458.8 L700.4,1400 L708.7,1290 L712.1,1253.8 Q713,1224 748.3,1223.8Z" fill="#232325"/>
<clipPath id="c3"><path d="M748.3,1223.8 L1346.4,1223.8 Q1384.7,1224 1384.7,1251.8 L1396.6,1360 L1400.2,1407 L1402.8,1470 Q1403.8,1492 1388,1500 L1378.4,1516.4 L1336.5,1690 L1329,1709.6 Q1322,1729 1297.6,1729 L809.8,1729 Q780,1728 770.8,1697.6 L742.9,1620 L695.5,1458.8 L700.4,1400 L708.7,1290 L712.1,1253.8 Q713,1224 748.3,1223.8Z"/></clipPath>
<g clip-path="url(#c3)">
<path d="M690,1223 L752,1223 L738,1445 L690,1445Z" fill="url(#gl3)"/>
<path d="M1340,1223 L1410,1223 L1410,1445 L1362,1445Z" fill="url(#gr3)"/>
<rect x="690" y="1223" width="720" height="4" fill="#161618"/>
<path d="M690,1389 Q720,1386 760,1386 L1340,1386 Q1380,1386 1410,1392" fill="none" stroke="#19191b" stroke-width="1.6"/>
<path d="M690,1387 H1410 V1445 H690Z" fill="#000" opacity="0.06"/>
<path d="M680,1446 Q700,1441 760,1441.2 L1124.9,1441.2 L1172.5,1405 L1410,1405 L1410,1740 L680,1740Z" fill="#5a2424"/>
<path d="M680,1446 Q700,1441 760,1441.2 L1124.9,1441.2 L1172.5,1405 L1410,1405 L1410,1459 L1040,1459 Q850,1461 680,1490Z" fill="url(#glip3)"/>
<path d="M680,1490 Q850,1461 1040,1459 L1410,1459 L1410,1740 L680,1740Z" fill="url(#gbot3)"/>
<path d="M1164,1456 H1380 Q1390,1456 1388,1462 H1164Z" fill="#8e5a58"/>
<path d="M1013,1456 H1158 V1461 H1013Z" fill="#7c3e3a"/>
<path d="M700,1447 Q712,1443 730,1443 L728,1452 Q712,1452 702,1456Z" fill="#8a3a32"/>
<path d="M1160.1,1456 V1511" stroke="#3a1210" stroke-width="1.6"/>
<path d="M1011.3,1456 V1516 H1030" stroke="#3a1210" stroke-width="1.6" fill="none"/>
<ellipse cx="1085" cy="1489.5" rx="12" ry="9" fill="#3d1210"/>
<rect x="1225.3" y="1411.2" width="86" height="33" rx="16.5" fill="#63201c" stroke="#43100d" stroke-width="2.5"/>
<path d="M1242,1444.5 H1296" stroke="#a04a44" stroke-width="1.5"/>
<ellipse cx="859" cy="1538.5" rx="43" ry="19" fill="#6e1d16"/>
<ellipse cx="859" cy="1543.8" rx="37.0" ry="13.7" fill="#4a1714"/>
<ellipse cx="859" cy="1547.0" rx="31.8" ry="9.9" fill="#5b211d"/>
<ellipse cx="1246.5" cy="1538.5" rx="43" ry="19" fill="#6e1d16"/>
<ellipse cx="1246.5" cy="1543.8" rx="37.0" ry="13.7" fill="#4a1714"/>
<ellipse cx="1246.5" cy="1547.0" rx="31.8" ry="9.9" fill="#5b211d"/>
<ellipse cx="888.5" cy="1707.7" rx="38" ry="14.5" fill="#6e1d16"/>
<ellipse cx="888.5" cy="1711.8" rx="32.7" ry="10.4" fill="#4a1714"/>
<ellipse cx="888.5" cy="1714.2" rx="28.1" ry="7.5" fill="#5b211d"/>
<ellipse cx="1209" cy="1707.7" rx="38" ry="14.5" fill="#6e1d16"/>
<ellipse cx="1209" cy="1711.8" rx="32.7" ry="10.4" fill="#4a1714"/>
<ellipse cx="1209" cy="1714.2" rx="28.1" ry="7.5" fill="#5b211d"/>
<ellipse cx="784" cy="1524.7" rx="19" ry="6" fill="#43110e"/>
<ellipse cx="1327" cy="1522.8" rx="19" ry="6" fill="#43110e"/>
<ellipse cx="825.6" cy="1684" rx="19" ry="6" fill="#43110e"/>
<ellipse cx="1282" cy="1682" rx="19" ry="6" fill="#43110e"/>
<path d="M759,1566 Q772,1564 786,1570 L789,1581 Q776,1582 764,1579Z" fill="#140606"/>
<path d="M783,1649 Q796,1648 808,1653 L810,1662 Q798,1664 787,1660Z" fill="#2a0b0a"/>
<rect x="857.0" y="1566.0" width="105.0" height="2.6" fill="#3f1413"/>
<rect x="995.0" y="1566.0" width="110.0" height="2.6" fill="#3f1413"/>
<rect x="1138.0" y="1566.0" width="108.5" height="2.6" fill="#3f1413"/>
<rect x="876.4" y="1574.0" width="85.6" height="2.6" fill="#3f1413"/>
<rect x="995.0" y="1574.0" width="110.0" height="2.6" fill="#3f1413"/>
<rect x="1138.0" y="1574.0" width="89.1" height="2.6" fill="#3f1413"/>
<rect x="859.8" y="1582.0" width="102.2" height="2.6" fill="#3f1413"/>
<rect x="995.0" y="1582.0" width="110.0" height="2.6" fill="#3f1413"/>
<rect x="1138.0" y="1582.0" width="105.7" height="2.6" fill="#3f1413"/>
<rect x="879.2" y="1590.0" width="82.8" height="2.6" fill="#3f1413"/>
<rect x="995.0" y="1590.0" width="110.0" height="2.6" fill="#3f1413"/>
<rect x="1138.0" y="1590.0" width="86.3" height="2.6" fill="#3f1413"/>
<rect x="862.6" y="1598.0" width="99.4" height="2.6" fill="#3f1413"/>
<rect x="995.0" y="1598.0" width="110.0" height="2.6" fill="#3f1413"/>
<rect x="1138.0" y="1598.0" width="102.9" height="2.6" fill="#3f1413"/>
<rect x="882.0" y="1606.0" width="80.0" height="2.6" fill="#3f1413"/>
<rect x="995.0" y="1606.0" width="110.0" height="2.6" fill="#3f1413"/>
<rect x="1138.0" y="1606.0" width="83.5" height="2.6" fill="#3f1413"/>
<rect x="865.4" y="1614.0" width="96.6" height="2.6" fill="#3f1413"/>
<rect x="995.0" y="1614.0" width="110.0" height="2.6" fill="#3f1413"/>
<rect x="1138.0" y="1614.0" width="100.1" height="2.6" fill="#3f1413"/>
<rect x="884.8" y="1622.0" width="77.2" height="2.6" fill="#3f1413"/>
<rect x="995.0" y="1622.0" width="110.0" height="2.6" fill="#3f1413"/>
<rect x="1138.0" y="1622.0" width="80.7" height="2.6" fill="#3f1413"/>
<rect x="868.2" y="1630.0" width="93.8" height="2.6" fill="#3f1413"/>
<rect x="995.0" y="1630.0" width="110.0" height="2.6" fill="#3f1413"/>
<rect x="1138.0" y="1630.0" width="97.3" height="2.6" fill="#3f1413"/>
<rect x="887.6" y="1638.0" width="74.4" height="2.6" fill="#3f1413"/>
<rect x="995.0" y="1638.0" width="110.0" height="2.6" fill="#3f1413"/>
<rect x="1138.0" y="1638.0" width="77.9" height="2.6" fill="#3f1413"/>
<rect x="871.0" y="1646.0" width="91.0" height="2.6" fill="#3f1413"/>
<rect x="995.0" y="1646.0" width="110.0" height="2.6" fill="#3f1413"/>
<rect x="1138.0" y="1646.0" width="94.5" height="2.6" fill="#3f1413"/>
<rect x="890.4" y="1654.0" width="71.6" height="2.6" fill="#3f1413"/>
<rect x="995.0" y="1654.0" width="110.0" height="2.6" fill="#3f1413"/>
<rect x="1138.0" y="1654.0" width="75.1" height="2.6" fill="#3f1413"/>
<rect x="873.8" y="1662.0" width="88.2" height="2.6" fill="#3f1413"/>
<rect x="995.0" y="1662.0" width="110.0" height="2.6" fill="#3f1413"/>
<rect x="1138.0" y="1662.0" width="91.7" height="2.6" fill="#3f1413"/>
<rect x="893.2" y="1670.0" width="68.8" height="2.6" fill="#3f1413"/>
<rect x="995.0" y="1670.0" width="110.0" height="2.6" fill="#3f1413"/>
<rect x="1138.0" y="1670.0" width="72.3" height="2.6" fill="#3f1413"/>
<rect x="876.6" y="1678.0" width="85.4" height="2.6" fill="#3f1413"/>
<rect x="995.0" y="1678.0" width="110.0" height="2.6" fill="#3f1413"/>
<rect x="1138.0" y="1678.0" width="88.9" height="2.6" fill="#3f1413"/>
</g></g>
<g id="arrows">
<path d="M393.9,480.0 L393.9,480.7 L393.9,481.5 L393.9,482.5 L393.8,483.6 L393.8,484.9 L393.7,486.2 L393.7,487.6 L393.7,489.1 L393.7,490.6 L393.7,492.2 L393.7,493.8 L393.8,495.5 L393.9,497.1 L394.1,498.8 L394.3,500.4 L394.6,502.0 L394.9,503.5 L395.3,505.0 L395.6,506.5 L396.0,508.1 L396.5,509.7 L396.9,511.3 L397.4,512.9 L397.9,514.6 L398.5,516.2 L399.1,517.9 L399.8,519.5 L400.5,521.2 L401.2,522.9 L402.0,524.5 L402.9,526.2 L403.8,527.8 L404.7,529.5 L405.8,531.1 L406.8,532.8 L408.0,534.4 L409.1,536.1 L410.3,537.7 L411.6,539.4 L412.9,541.0 L414.2,542.6 L415.5,544.2 L416.9,545.8 L418.3,547.4 L419.7,549.0 L421.1,550.5 L422.5,552.0 L423.9,553.5 L425.3,554.9 L426.8,556.4 L428.3,557.8 L429.8,559.3 L431.4,560.7 L432.9,562.1 L434.5,563.5 L436.1,564.8 L437.7,566.2 L439.3,567.5 L441.0,568.8 L442.6,570.0 L444.2,571.3 L445.8,572.5 L447.3,573.7 L448.9,574.8 L450.5,576.0 L452.2,577.1 L453.8,578.3 L455.5,579.3 L457.2,580.4 L458.9,581.4 L460.5,582.5 L462.2,583.4 L463.8,584.4 L465.4,585.3 L467.0,586.2 L468.5,587.1 L469.9,587.9 L471.3,588.7 L472.6,589.5 L473.9,590.2 L475.1,590.9 L476.3,591.6 L477.5,592.3 L478.6,593.0 L479.7,593.6 L480.8,594.2 L481.8,594.7 L482.8,595.2 L483.7,595.7 L484.6,596.2 L485.4,596.6 L486.2,597.0 L486.9,597.4 L487.5,597.7 L488.0,598.0 L488.5,598.3 L492.5,590.7 L492.0,590.5 L491.4,590.2 L490.7,589.9 L490.0,589.5 L489.3,589.1 L488.5,588.7 L487.6,588.3 L486.7,587.8 L485.7,587.3 L484.7,586.8 L483.7,586.3 L482.6,585.7 L481.5,585.1 L480.3,584.5 L479.1,583.8 L477.9,583.2 L476.6,582.5 L475.3,581.7 L473.8,580.9 L472.4,580.1 L470.8,579.3 L469.3,578.4 L467.7,577.6 L466.1,576.7 L464.5,575.7 L462.8,574.8 L461.2,573.8 L459.6,572.9 L458.0,571.9 L456.4,570.8 L454.8,569.8 L453.3,568.8 L451.7,567.7 L450.2,566.5 L448.6,565.4 L447.0,564.2 L445.4,563.0 L443.8,561.8 L442.2,560.6 L440.7,559.3 L439.1,558.0 L437.5,556.7 L436.0,555.4 L434.5,554.1 L433.0,552.8 L431.5,551.4 L430.1,550.1 L428.7,548.7 L427.3,547.3 L425.9,545.9 L424.6,544.5 L423.2,543.0 L421.8,541.5 L420.5,540.0 L419.1,538.5 L417.9,536.9 L416.6,535.4 L415.4,533.9 L414.2,532.3 L413.0,530.8 L412.0,529.3 L410.9,527.8 L409.9,526.3 L409.0,524.8 L408.2,523.3 L407.4,521.8 L406.6,520.3 L405.9,518.8 L405.2,517.3 L404.6,515.8 L403.9,514.2 L403.4,512.7 L402.9,511.2 L402.4,509.7 L401.9,508.2 L401.5,506.7 L401.0,505.2 L400.7,503.7 L400.3,502.3 L400.0,500.8 L399.7,499.5 L399.5,498.0 L399.3,496.6 L399.1,495.1 L399.0,493.6 L399.0,492.1 L398.9,490.6 L398.9,489.1 L398.9,487.7 L398.9,486.3 L398.9,485.0 L398.9,483.7 L398.9,482.6 L398.9,481.6 L398.9,480.6 L398.9,479.8Z" fill="#d93d4c"/><path d="M480.5,577.0 L490.5,594.5 L470.0,601.5" fill="#d93d4c" stroke="#d93d4c" stroke-width="7" stroke-linecap="round" stroke-linejoin="round"/>
<path d="M193.6,773.8 L193.6,775.3 L193.9,777.1 L194.1,779.3 L194.4,781.7 L194.8,784.3 L195.2,787.2 L195.7,790.3 L196.3,793.5 L196.9,796.8 L197.6,800.2 L198.4,803.6 L199.3,807.1 L200.3,810.6 L201.5,814.0 L202.8,817.4 L204.2,820.6 L205.8,823.7 L207.4,826.8 L209.1,830.0 L210.9,833.2 L212.9,836.4 L214.9,839.6 L217.0,842.8 L219.2,846.0 L221.4,849.2 L223.8,852.3 L226.2,855.4 L228.7,858.5 L231.3,861.4 L233.9,864.3 L236.6,867.1 L239.3,869.8 L242.1,872.4 L244.9,874.9 L247.8,877.3 L250.8,879.7 L253.9,882.0 L257.0,884.2 L260.2,886.4 L263.4,888.5 L266.7,890.6 L270.0,892.6 L273.4,894.5 L276.9,896.3 L280.4,898.1 L283.9,899.8 L287.5,901.4 L291.1,903.0 L294.9,904.4 L298.8,905.8 L302.9,907.2 L306.9,908.4 L311.1,909.6 L315.3,910.6 L319.5,911.6 L323.7,912.6 L327.9,913.5 L332.1,914.3 L336.2,915.0 L340.2,915.7 L344.1,916.4 L348.0,917.0 L351.6,917.5 L355.2,918.0 L358.8,918.4 L362.4,918.8 L365.9,919.0 L369.4,919.2 L372.8,919.3 L376.2,919.4 L379.4,919.4 L382.6,919.3 L385.7,919.2 L388.6,919.1 L391.5,919.0 L394.1,918.9 L396.7,918.7 L399.1,918.6 L401.3,918.5 L403.4,918.4 L405.4,918.3 L407.4,918.2 L409.3,918.0 L411.0,917.8 L412.6,917.6 L414.1,917.4 L415.5,917.2 L416.7,916.9 L417.9,916.7 L418.9,916.4 L419.8,916.2 L420.6,916.0 L421.3,915.9 L421.8,915.8 L422.2,915.7 L422.6,915.6 L419.4,897.4 L418.6,897.5 L417.8,897.7 L417.0,897.9 L416.2,898.1 L415.4,898.3 L414.7,898.5 L413.9,898.7 L413.0,898.9 L412.1,899.1 L411.0,899.3 L409.9,899.5 L408.7,899.6 L407.4,899.8 L405.9,899.9 L404.3,900.1 L402.4,900.2 L400.3,900.3 L398.0,900.5 L395.6,900.6 L393.1,900.8 L390.5,901.0 L387.8,901.1 L385.0,901.3 L382.1,901.4 L379.2,901.5 L376.2,901.5 L373.1,901.5 L370.0,901.5 L366.9,901.4 L363.7,901.2 L360.6,900.9 L357.4,900.6 L354.0,900.2 L350.4,899.7 L346.7,899.2 L342.9,898.6 L339.1,898.0 L335.1,897.4 L331.2,896.7 L327.2,895.9 L323.2,895.1 L319.2,894.2 L315.3,893.3 L311.5,892.3 L307.7,891.2 L304.1,890.1 L300.6,888.9 L297.3,887.6 L294.0,886.3 L290.7,884.9 L287.4,883.4 L284.2,881.9 L281.0,880.3 L277.9,878.6 L274.8,876.8 L271.8,875.0 L268.8,873.2 L265.9,871.3 L263.1,869.3 L260.3,867.3 L257.5,865.2 L254.8,863.0 L252.2,860.8 L249.7,858.6 L247.2,856.3 L244.8,853.9 L242.4,851.4 L240.0,848.7 L237.7,846.0 L235.4,843.2 L233.2,840.4 L231.0,837.5 L228.9,834.6 L226.8,831.7 L224.9,828.8 L223.0,825.8 L221.3,822.9 L219.6,820.1 L218.0,817.3 L216.6,814.6 L215.3,812.0 L214.1,809.2 L213.0,806.3 L211.9,803.3 L211.0,800.2 L210.1,797.1 L209.3,794.0 L208.6,790.9 L207.9,787.9 L207.3,785.0 L206.7,782.2 L206.1,779.6 L205.6,777.2 L205.0,775.0 L204.5,773.0 L203.8,771.4Z" fill="#d93d4c"/><path d="M391.5,874.5 L421.0,906.5 L387.0,930.5" fill="none" stroke="#d93d4c" stroke-width="17.5" stroke-linecap="round" stroke-linejoin="round"/>
<path d="M993.9,677.0 L993.7,678.3 L993.8,679.6 L994.0,681.2 L994.3,682.8 L994.6,684.6 L994.9,686.4 L995.3,688.4 L995.6,690.5 L996.0,692.6 L996.3,694.8 L996.6,697.0 L996.8,699.2 L997.0,701.4 L997.1,703.7 L997.2,705.8 L997.2,708.0 L997.1,710.3 L997.0,712.7 L996.9,715.2 L996.7,717.6 L996.5,720.2 L996.3,722.7 L996.0,725.4 L995.7,728.0 L995.4,730.7 L994.9,733.4 L994.5,736.2 L994.0,739.0 L993.4,741.8 L992.8,744.6 L992.1,747.5 L991.3,750.4 L990.5,753.4 L989.6,756.5 L988.7,759.6 L987.7,762.9 L986.7,766.1 L985.6,769.4 L984.5,772.7 L983.3,776.1 L982.1,779.4 L980.8,782.7 L979.4,785.9 L978.0,789.1 L976.6,792.3 L975.1,795.3 L973.5,798.3 L971.9,801.2 L970.2,804.0 L968.5,806.8 L966.6,809.6 L964.7,812.4 L962.7,815.2 L960.6,817.9 L958.5,820.6 L956.3,823.2 L954.1,825.9 L951.9,828.5 L949.6,831.0 L947.2,833.5 L944.9,836.0 L942.5,838.4 L940.1,840.7 L937.7,843.0 L935.3,845.2 L932.8,847.3 L930.2,849.5 L927.5,851.6 L924.7,853.7 L921.9,855.7 L919.0,857.7 L916.1,859.7 L913.3,861.6 L910.4,863.5 L907.6,865.3 L904.8,867.0 L902.2,868.7 L899.5,870.3 L897.0,871.8 L894.7,873.3 L892.5,874.6 L890.4,875.8 L888.3,877.0 L886.2,878.1 L884.1,879.1 L882.1,880.1 L880.2,881.0 L878.3,881.9 L876.4,882.7 L874.7,883.4 L873.0,884.1 L871.4,884.8 L870.0,885.4 L868.6,886.0 L867.3,886.6 L866.2,887.1 L873.8,902.9 L874.7,902.4 L875.7,902.0 L876.9,901.4 L878.4,900.8 L879.9,900.1 L881.7,899.3 L883.5,898.5 L885.4,897.6 L887.5,896.6 L889.6,895.6 L891.9,894.5 L894.2,893.3 L896.5,892.0 L898.9,890.6 L901.3,889.2 L903.7,887.7 L906.1,886.2 L908.6,884.6 L911.2,882.9 L913.9,881.1 L916.7,879.3 L919.6,877.4 L922.5,875.4 L925.5,873.3 L928.5,871.2 L931.5,869.0 L934.5,866.7 L937.5,864.4 L940.4,862.0 L943.3,859.6 L946.0,857.1 L948.7,854.6 L951.3,852.1 L953.8,849.5 L956.3,846.9 L958.8,844.2 L961.2,841.5 L963.6,838.7 L966.0,835.9 L968.3,833.0 L970.6,830.1 L972.9,827.1 L975.0,824.1 L977.1,821.0 L979.2,817.9 L981.2,814.8 L983.1,811.6 L984.9,808.4 L986.6,805.2 L988.3,801.8 L989.8,798.4 L991.3,794.9 L992.8,791.4 L994.1,787.8 L995.4,784.3 L996.6,780.7 L997.8,777.2 L998.9,773.7 L999.9,770.2 L1000.9,766.7 L1001.8,763.3 L1002.7,760.0 L1003.5,756.8 L1004.3,753.6 L1005.0,750.5 L1005.6,747.4 L1006.2,744.3 L1006.7,741.2 L1007.2,738.2 L1007.5,735.2 L1007.9,732.2 L1008.2,729.3 L1008.4,726.5 L1008.6,723.7 L1008.7,720.9 L1008.8,718.2 L1008.8,715.6 L1008.9,713.0 L1008.9,710.5 L1008.8,708.0 L1008.7,705.4 L1008.5,702.8 L1008.2,700.3 L1007.8,697.7 L1007.4,695.3 L1006.9,692.9 L1006.4,690.6 L1005.8,688.3 L1005.3,686.2 L1004.7,684.2 L1004.2,682.3 L1003.7,680.6 L1003.2,679.0 L1002.7,677.7 L1002.3,676.5 L1001.7,675.6Z" fill="#d93d4c"/><path d="M877.0,858.0 L870.0,895.0 L910.0,903.0" fill="none" stroke="#d93d4c" stroke-width="16" stroke-linecap="round" stroke-linejoin="round"/>
<path d="M1970.4,620.4 L1970.6,621.2 L1970.8,622.2 L1971.2,623.3 L1971.6,624.5 L1972.0,625.8 L1972.5,627.2 L1973.0,628.7 L1973.5,630.2 L1974.0,631.7 L1974.5,633.3 L1975.0,634.8 L1975.4,636.4 L1975.9,637.9 L1976.2,639.3 L1976.5,640.7 L1976.8,642.0 L1977.0,643.2 L1977.2,644.5 L1977.3,645.7 L1977.5,646.9 L1977.6,648.1 L1977.7,649.3 L1977.7,650.4 L1977.8,651.6 L1977.8,652.8 L1977.8,654.0 L1977.8,655.3 L1977.7,656.5 L1977.7,657.8 L1977.6,659.1 L1977.5,660.5 L1977.4,661.9 L1977.3,663.3 L1977.1,664.8 L1977.0,666.3 L1976.8,667.8 L1976.6,669.4 L1976.4,671.0 L1976.1,672.6 L1975.8,674.2 L1975.6,675.8 L1975.3,677.4 L1974.9,679.1 L1974.6,680.7 L1974.2,682.3 L1973.9,683.9 L1973.5,685.5 L1973.1,687.1 L1972.6,688.6 L1972.2,690.2 L1971.7,691.8 L1971.2,693.4 L1970.6,694.9 L1970.1,696.5 L1969.5,698.1 L1968.9,699.6 L1968.3,701.2 L1967.7,702.8 L1967.1,704.4 L1966.4,706.0 L1965.8,707.5 L1965.1,709.1 L1964.4,710.7 L1963.7,712.3 L1962.9,713.9 L1962.2,715.4 L1961.4,717.0 L1960.6,718.6 L1959.7,720.2 L1958.8,721.8 L1958.0,723.4 L1957.1,725.0 L1956.1,726.7 L1955.2,728.3 L1954.3,729.9 L1953.4,731.5 L1952.5,733.1 L1951.7,734.7 L1950.8,736.3 L1950.0,737.9 L1949.2,739.5 L1948.4,741.1 L1947.5,742.7 L1946.7,744.4 L1945.8,746.1 L1945.0,747.8 L1944.1,749.5 L1943.3,751.1 L1942.6,752.7 L1941.8,754.2 L1941.1,755.6 L1940.5,757.0 L1939.9,758.2 L1939.3,759.3 L1938.8,760.2 L1938.5,761.0 L1946.5,765.0 L1946.9,764.1 L1947.4,763.2 L1947.9,762.1 L1948.5,760.8 L1949.1,759.5 L1949.8,758.0 L1950.5,756.5 L1951.3,754.9 L1952.0,753.3 L1952.8,751.6 L1953.6,749.9 L1954.4,748.2 L1955.3,746.6 L1956.1,744.9 L1956.8,743.3 L1957.6,741.7 L1958.4,740.2 L1959.1,738.7 L1960.0,737.1 L1960.8,735.5 L1961.7,733.9 L1962.5,732.3 L1963.4,730.6 L1964.3,729.0 L1965.2,727.3 L1966.1,725.6 L1966.9,724.0 L1967.8,722.3 L1968.6,720.6 L1969.4,718.9 L1970.2,717.2 L1970.9,715.5 L1971.6,713.8 L1972.3,712.2 L1973.0,710.5 L1973.7,708.9 L1974.3,707.2 L1974.9,705.6 L1975.5,703.9 L1976.1,702.3 L1976.7,700.6 L1977.3,698.9 L1977.8,697.3 L1978.3,695.6 L1978.8,693.9 L1979.3,692.3 L1979.7,690.6 L1980.1,688.9 L1980.5,687.2 L1980.9,685.5 L1981.3,683.8 L1981.6,682.1 L1981.9,680.4 L1982.2,678.7 L1982.5,677.0 L1982.7,675.3 L1983.0,673.6 L1983.2,671.9 L1983.4,670.2 L1983.5,668.6 L1983.7,667.0 L1983.8,665.4 L1983.9,663.8 L1984.0,662.3 L1984.1,660.9 L1984.1,659.4 L1984.2,658.0 L1984.2,656.7 L1984.2,655.3 L1984.2,654.0 L1984.1,652.7 L1984.1,651.4 L1984.0,650.1 L1983.9,648.8 L1983.7,647.5 L1983.5,646.2 L1983.4,644.9 L1983.1,643.5 L1982.9,642.2 L1982.6,640.8 L1982.3,639.4 L1981.9,637.8 L1981.4,636.3 L1980.9,634.7 L1980.3,633.1 L1979.8,631.5 L1979.2,629.9 L1978.6,628.3 L1978.0,626.8 L1977.4,625.4 L1976.8,624.0 L1976.3,622.7 L1975.8,621.6 L1975.4,620.5 L1975.0,619.7 L1974.6,619.0Z" fill="#d93d4c"/><path d="M1938.5,741.0 L1942.5,763.0 L1959.0,757.5" fill="#d93d4c" stroke="#d93d4c" stroke-width="6.5" stroke-linecap="round" stroke-linejoin="round"/>
<path d="M1221.3,1044.9 L1221.2,1044.0 L1221.0,1042.8 L1220.8,1041.4 L1220.6,1039.9 L1220.3,1038.3 L1220.1,1036.6 L1219.8,1034.8 L1219.6,1033.0 L1219.3,1031.0 L1219.1,1029.1 L1218.9,1027.1 L1218.8,1025.2 L1218.7,1023.3 L1218.7,1021.4 L1218.8,1019.6 L1218.9,1017.9 L1219.1,1016.2 L1219.4,1014.5 L1219.7,1012.7 L1220.0,1011.0 L1220.4,1009.2 L1220.9,1007.4 L1221.3,1005.6 L1221.8,1003.8 L1222.4,1002.0 L1223.0,1000.2 L1223.6,998.4 L1224.3,996.6 L1224.9,994.8 L1225.7,993.0 L1226.4,991.2 L1227.2,989.4 L1228.0,987.6 L1228.8,985.8 L1229.7,984.0 L1230.7,982.2 L1231.6,980.4 L1232.6,978.5 L1233.7,976.7 L1234.7,974.9 L1235.8,973.1 L1236.9,971.3 L1238.1,969.5 L1239.2,967.7 L1240.4,966.0 L1241.6,964.3 L1242.8,962.6 L1244.1,960.9 L1245.3,959.3 L1246.6,957.6 L1247.9,956.0 L1249.3,954.4 L1250.7,952.8 L1252.1,951.2 L1253.5,949.6 L1255.0,948.0 L1256.5,946.5 L1257.9,945.0 L1259.4,943.4 L1260.9,941.9 L1262.4,940.5 L1263.8,939.0 L1265.3,937.6 L1266.7,936.2 L1268.2,934.9 L1269.7,933.5 L1271.2,932.1 L1272.8,930.7 L1274.4,929.4 L1276.1,928.0 L1277.7,926.6 L1279.3,925.3 L1280.8,924.1 L1282.3,922.9 L1283.8,921.7 L1285.1,920.7 L1286.3,919.7 L1287.5,918.8 L1288.4,918.0 L1289.3,917.3 L1282.7,909.7 L1282.0,910.4 L1281.1,911.2 L1280.0,912.1 L1278.8,913.1 L1277.6,914.2 L1276.2,915.4 L1274.7,916.7 L1273.1,918.1 L1271.6,919.5 L1269.9,920.9 L1268.3,922.4 L1266.7,923.9 L1265.1,925.4 L1263.5,926.9 L1261.9,928.5 L1260.5,930.0 L1259.1,931.4 L1257.6,932.9 L1256.2,934.5 L1254.7,936.0 L1253.3,937.6 L1251.8,939.2 L1250.4,940.9 L1248.9,942.5 L1247.4,944.2 L1246.0,945.9 L1244.6,947.6 L1243.2,949.4 L1241.8,951.1 L1240.5,952.9 L1239.2,954.7 L1237.9,956.5 L1236.7,958.3 L1235.5,960.1 L1234.3,962.0 L1233.2,963.9 L1232.0,965.7 L1230.9,967.7 L1229.8,969.6 L1228.7,971.5 L1227.7,973.4 L1226.7,975.4 L1225.7,977.3 L1224.8,979.3 L1223.9,981.2 L1223.0,983.2 L1222.2,985.1 L1221.4,987.0 L1220.7,988.9 L1220.0,990.8 L1219.3,992.7 L1218.7,994.6 L1218.0,996.6 L1217.5,998.5 L1216.9,1000.4 L1216.4,1002.3 L1215.9,1004.2 L1215.5,1006.2 L1215.1,1008.1 L1214.8,1010.0 L1214.5,1011.9 L1214.2,1013.7 L1214.0,1015.6 L1213.9,1017.5 L1213.8,1019.4 L1213.8,1021.4 L1213.9,1023.5 L1214.1,1025.5 L1214.3,1027.6 L1214.5,1029.6 L1214.8,1031.7 L1215.1,1033.6 L1215.5,1035.5 L1215.8,1037.3 L1216.2,1039.1 L1216.5,1040.7 L1216.7,1042.1 L1217.0,1043.4 L1217.2,1044.5 L1217.3,1045.5Z" fill="#d93d4c"/><path d="M1264.5,915.0 L1286.0,913.5 L1282.0,938.0" fill="#d93d4c" stroke="#d93d4c" stroke-width="8.5" stroke-linecap="round" stroke-linejoin="round"/>
<path d="M612.2,1322.7 L612.8,1323.2 L613.4,1323.7 L614.1,1324.4 L614.9,1325.2 L615.8,1326.1 L616.7,1327.0 L617.8,1328.0 L618.9,1329.0 L620.0,1330.0 L621.3,1331.1 L622.6,1332.1 L623.9,1333.1 L625.4,1334.1 L626.9,1335.1 L628.4,1336.0 L630.0,1336.8 L631.6,1337.6 L633.3,1338.3 L635.1,1339.1 L637.0,1339.8 L638.9,1340.5 L640.9,1341.2 L642.9,1341.9 L645.0,1342.5 L647.0,1343.2 L649.1,1343.8 L651.2,1344.4 L653.3,1344.9 L655.4,1345.4 L657.5,1345.9 L659.5,1346.4 L661.5,1346.8 L663.5,1347.2 L665.5,1347.6 L667.4,1347.9 L669.4,1348.2 L671.4,1348.5 L673.4,1348.8 L675.4,1349.0 L677.4,1349.2 L679.4,1349.4 L681.4,1349.6 L683.3,1349.7 L685.3,1349.8 L687.3,1349.9 L689.3,1349.9 L691.3,1349.9 L693.3,1349.9 L695.3,1349.8 L697.2,1349.7 L699.2,1349.6 L701.1,1349.5 L703.0,1349.4 L704.9,1349.2 L706.8,1349.0 L708.8,1348.7 L710.7,1348.5 L712.7,1348.1 L714.7,1347.8 L716.7,1347.4 L718.8,1347.0 L720.9,1346.5 L723.0,1346.0 L725.2,1345.5 L727.5,1344.9 L730.1,1344.1 L732.7,1343.3 L735.4,1342.4 L738.2,1341.4 L741.1,1340.4 L743.9,1339.4 L746.7,1338.4 L749.5,1337.4 L752.1,1336.4 L754.6,1335.5 L757.0,1334.6 L759.1,1333.8 L761.0,1333.1 L762.6,1332.5 L764.0,1332.0 L761.0,1324.0 L759.7,1324.5 L758.0,1325.2 L756.1,1326.0 L753.9,1326.8 L751.6,1327.7 L749.1,1328.7 L746.5,1329.8 L743.8,1330.8 L741.1,1331.9 L738.3,1332.9 L735.6,1334.0 L732.9,1335.0 L730.2,1335.9 L727.7,1336.7 L725.4,1337.5 L723.2,1338.1 L721.1,1338.7 L719.1,1339.2 L717.1,1339.7 L715.2,1340.1 L713.3,1340.5 L711.4,1340.9 L709.6,1341.2 L707.7,1341.5 L705.9,1341.8 L704.1,1342.0 L702.3,1342.2 L700.5,1342.4 L698.7,1342.6 L696.8,1342.7 L695.0,1342.8 L693.1,1342.9 L691.2,1343.0 L689.3,1343.0 L687.4,1343.1 L685.5,1343.0 L683.6,1343.0 L681.7,1342.9 L679.8,1342.8 L677.9,1342.7 L676.0,1342.6 L674.1,1342.4 L672.2,1342.2 L670.3,1341.9 L668.4,1341.7 L666.5,1341.4 L664.6,1341.1 L662.7,1340.8 L660.7,1340.4 L658.8,1340.0 L656.8,1339.6 L654.7,1339.2 L652.7,1338.7 L650.6,1338.2 L648.6,1337.7 L646.6,1337.1 L644.6,1336.5 L642.6,1336.0 L640.7,1335.4 L638.8,1334.7 L637.0,1334.1 L635.3,1333.5 L633.7,1332.8 L632.2,1332.2 L630.8,1331.5 L629.4,1330.8 L628.1,1330.0 L626.7,1329.1 L625.5,1328.2 L624.2,1327.3 L623.0,1326.4 L621.9,1325.5 L620.8,1324.6 L619.7,1323.7 L618.7,1322.8 L617.8,1322.0 L617.0,1321.3 L616.2,1320.6 L615.4,1320.0 L614.8,1319.5Z" fill="#d93d4c"/><path d="M741.0,1322.5 L762.5,1328.0 L751.5,1347.5" fill="#d93d4c" stroke="#d93d4c" stroke-width="6.5" stroke-linecap="round" stroke-linejoin="round"/>
<path d="M1482.2,1381.4 L1481.5,1382.0 L1480.7,1382.8 L1479.8,1383.7 L1478.9,1384.7 L1477.9,1385.8 L1476.8,1387.0 L1475.7,1388.2 L1474.5,1389.5 L1473.2,1390.8 L1471.9,1392.1 L1470.6,1393.3 L1469.2,1394.6 L1467.7,1395.9 L1466.3,1397.1 L1464.8,1398.2 L1463.4,1399.2 L1461.8,1400.3 L1460.1,1401.4 L1458.4,1402.4 L1456.6,1403.5 L1454.7,1404.6 L1452.8,1405.7 L1450.8,1406.7 L1448.8,1407.8 L1446.8,1408.8 L1444.7,1409.8 L1442.7,1410.8 L1440.6,1411.7 L1438.6,1412.6 L1436.6,1413.5 L1434.6,1414.3 L1432.7,1415.1 L1430.8,1415.8 L1428.9,1416.4 L1427.0,1417.1 L1425.1,1417.7 L1423.2,1418.3 L1421.3,1418.8 L1419.4,1419.3 L1417.5,1419.8 L1415.6,1420.2 L1413.7,1420.7 L1411.8,1421.1 L1409.9,1421.5 L1408.0,1421.8 L1406.0,1422.2 L1404.1,1422.5 L1402.2,1422.8 L1400.3,1423.1 L1398.4,1423.3 L1396.5,1423.6 L1394.6,1423.8 L1392.7,1424.0 L1390.8,1424.1 L1389.0,1424.3 L1387.1,1424.4 L1385.2,1424.5 L1383.3,1424.5 L1381.4,1424.6 L1379.5,1424.6 L1377.6,1424.6 L1375.8,1424.5 L1373.9,1424.5 L1372.0,1424.4 L1370.1,1424.2 L1368.1,1424.0 L1366.0,1423.8 L1363.8,1423.5 L1361.6,1423.1 L1359.4,1422.8 L1357.1,1422.4 L1354.9,1422.0 L1352.8,1421.6 L1350.7,1421.2 L1348.8,1420.8 L1346.9,1420.4 L1345.2,1420.1 L1343.7,1419.8 L1342.3,1419.5 L1341.2,1419.3 L1339.8,1427.7 L1340.9,1427.9 L1342.2,1428.1 L1343.7,1428.3 L1345.3,1428.6 L1347.2,1429.0 L1349.2,1429.3 L1351.3,1429.7 L1353.5,1430.1 L1355.8,1430.4 L1358.1,1430.8 L1360.4,1431.1 L1362.7,1431.4 L1365.0,1431.7 L1367.3,1431.9 L1369.5,1432.1 L1371.6,1432.2 L1373.6,1432.3 L1375.6,1432.3 L1377.6,1432.3 L1379.6,1432.3 L1381.6,1432.2 L1383.6,1432.1 L1385.6,1432.0 L1387.6,1431.9 L1389.5,1431.7 L1391.5,1431.5 L1393.5,1431.3 L1395.5,1431.0 L1397.5,1430.8 L1399.4,1430.5 L1401.4,1430.2 L1403.4,1429.8 L1405.4,1429.5 L1407.3,1429.1 L1409.3,1428.7 L1411.3,1428.3 L1413.3,1427.8 L1415.2,1427.4 L1417.2,1426.9 L1419.2,1426.3 L1421.2,1425.8 L1423.2,1425.2 L1425.2,1424.6 L1427.1,1423.9 L1429.1,1423.2 L1431.1,1422.5 L1433.1,1421.7 L1435.1,1420.9 L1437.1,1420.1 L1439.1,1419.2 L1441.2,1418.2 L1443.2,1417.2 L1445.3,1416.2 L1447.4,1415.1 L1449.5,1414.0 L1451.6,1412.9 L1453.6,1411.8 L1455.6,1410.6 L1457.5,1409.4 L1459.5,1408.3 L1461.3,1407.1 L1463.1,1405.9 L1464.8,1404.7 L1466.4,1403.6 L1468.0,1402.3 L1469.6,1401.0 L1471.1,1399.7 L1472.6,1398.3 L1474.0,1396.9 L1475.4,1395.5 L1476.7,1394.0 L1477.9,1392.7 L1479.1,1391.3 L1480.2,1390.0 L1481.2,1388.8 L1482.2,1387.6 L1483.0,1386.6 L1483.8,1385.7 L1484.5,1384.9 L1485.0,1384.2Z" fill="#d93d4c"/><path d="M1360.5,1410.5 L1340.5,1423.5 L1353.5,1437.5" fill="#d93d4c" stroke="#d93d4c" stroke-width="6.5" stroke-linecap="round" stroke-linejoin="round"/>
<path d="M1391.1,1607.9 L1389.7,1607.9 L1388.1,1608.2 L1386.2,1608.7 L1384.3,1609.1 L1382.1,1609.7 L1379.9,1610.3 L1377.5,1610.9 L1375.0,1611.5 L1372.5,1612.1 L1369.9,1612.7 L1367.3,1613.3 L1364.6,1613.8 L1362.0,1614.3 L1359.4,1614.8 L1356.9,1615.1 L1354.4,1615.4 L1351.9,1615.6 L1349.2,1615.8 L1346.5,1615.9 L1343.8,1616.1 L1341.0,1616.2 L1338.1,1616.3 L1335.3,1616.3 L1332.4,1616.3 L1329.5,1616.3 L1326.6,1616.2 L1323.8,1616.1 L1320.9,1615.9 L1318.0,1615.7 L1315.2,1615.4 L1312.5,1615.0 L1309.7,1614.6 L1306.9,1614.1 L1304.2,1613.6 L1301.4,1613.0 L1298.6,1612.3 L1295.9,1611.6 L1293.1,1610.9 L1290.3,1610.1 L1287.6,1609.2 L1284.8,1608.3 L1282.0,1607.4 L1279.2,1606.4 L1276.5,1605.3 L1273.7,1604.2 L1270.9,1603.1 L1268.1,1601.8 L1265.4,1600.6 L1262.6,1599.3 L1259.8,1597.9 L1256.9,1596.4 L1254.1,1594.8 L1251.2,1593.2 L1248.3,1591.6 L1245.5,1589.9 L1242.6,1588.1 L1239.7,1586.3 L1236.9,1584.5 L1234.1,1582.6 L1231.3,1580.7 L1228.6,1578.8 L1225.9,1576.9 L1223.2,1575.0 L1220.6,1573.0 L1218.1,1571.1 L1215.6,1569.0 L1213.1,1566.9 L1210.6,1564.7 L1208.0,1562.4 L1205.5,1560.1 L1203.1,1557.8 L1200.6,1555.5 L1198.2,1553.1 L1195.9,1550.8 L1193.6,1548.5 L1191.3,1546.2 L1189.2,1544.0 L1187.1,1541.9 L1185.1,1539.8 L1183.2,1537.8 L1181.4,1536.0 L1179.7,1534.2 L1178.1,1532.3 L1176.5,1530.5 L1174.9,1528.7 L1173.4,1526.9 L1172.0,1525.2 L1170.6,1523.5 L1169.4,1521.9 L1168.1,1520.3 L1167.0,1518.8 L1165.9,1517.4 L1164.9,1516.1 L1163.9,1514.9 L1163.1,1513.8 L1162.3,1512.9 L1147.7,1525.1 L1148.4,1525.9 L1149.2,1526.8 L1150.1,1527.9 L1151.1,1529.2 L1152.2,1530.6 L1153.4,1532.1 L1154.7,1533.7 L1156.1,1535.4 L1157.6,1537.1 L1159.1,1539.0 L1160.8,1540.9 L1162.5,1542.8 L1164.3,1544.8 L1166.1,1546.8 L1168.1,1548.8 L1170.0,1550.8 L1172.0,1552.7 L1174.1,1554.8 L1176.2,1556.9 L1178.5,1559.1 L1180.8,1561.4 L1183.2,1563.7 L1185.7,1566.1 L1188.2,1568.5 L1190.9,1570.9 L1193.5,1573.3 L1196.2,1575.7 L1198.9,1578.1 L1201.7,1580.4 L1204.5,1582.7 L1207.3,1584.9 L1210.2,1587.0 L1213.0,1589.0 L1215.8,1591.0 L1218.7,1593.0 L1221.7,1595.0 L1224.7,1596.9 L1227.7,1598.9 L1230.8,1600.7 L1233.8,1602.6 L1236.9,1604.4 L1240.0,1606.1 L1243.2,1607.8 L1246.3,1609.5 L1249.4,1611.1 L1252.5,1612.6 L1255.6,1614.0 L1258.6,1615.4 L1261.7,1616.7 L1264.7,1618.0 L1267.8,1619.2 L1270.8,1620.3 L1273.9,1621.4 L1276.9,1622.4 L1280.0,1623.4 L1283.0,1624.3 L1286.1,1625.1 L1289.2,1625.9 L1292.2,1626.6 L1295.3,1627.3 L1298.3,1627.9 L1301.4,1628.5 L1304.4,1629.0 L1307.5,1629.4 L1310.6,1629.8 L1313.7,1630.1 L1316.9,1630.3 L1320.0,1630.5 L1323.2,1630.6 L1326.3,1630.7 L1329.5,1630.6 L1332.6,1630.6 L1335.7,1630.5 L1338.7,1630.3 L1341.7,1630.1 L1344.7,1629.9 L1347.6,1629.6 L1350.4,1629.3 L1353.2,1629.0 L1356.0,1628.6 L1358.8,1628.2 L1361.7,1627.7 L1364.6,1627.1 L1367.4,1626.4 L1370.3,1625.6 L1373.1,1624.9 L1375.8,1624.0 L1378.4,1623.2 L1380.9,1622.4 L1383.3,1621.6 L1385.5,1620.8 L1387.6,1620.0 L1389.5,1619.4 L1391.1,1618.7 L1392.5,1618.2 L1393.7,1617.5Z" fill="#d93d4c"/><path d="M1193.0,1520.5 L1155.0,1519.0 L1154.5,1558.0" fill="none" stroke="#d93d4c" stroke-width="14" stroke-linecap="round" stroke-linejoin="round"/>
<path d="M624.0,1707.5 L624.7,1707.8 L625.5,1708.1 L626.5,1708.6 L627.6,1709.1 L628.8,1709.6 L630.0,1710.2 L631.4,1710.8 L632.9,1711.4 L634.4,1712.0 L636.0,1712.7 L637.6,1713.3 L639.2,1713.9 L640.9,1714.4 L642.7,1714.9 L644.4,1715.3 L646.1,1715.7 L647.9,1716.0 L649.6,1716.3 L651.4,1716.6 L653.2,1716.8 L655.1,1717.1 L657.0,1717.3 L658.9,1717.5 L660.9,1717.6 L662.9,1717.8 L664.9,1717.9 L667.0,1717.9 L669.1,1718.0 L671.3,1717.9 L673.4,1717.9 L675.6,1717.8 L677.9,1717.6 L680.1,1717.4 L682.5,1717.2 L684.9,1716.9 L687.4,1716.6 L689.9,1716.3 L692.5,1715.9 L695.1,1715.5 L697.7,1715.1 L700.3,1714.6 L702.8,1714.1 L705.4,1713.5 L708.0,1712.9 L710.5,1712.3 L712.9,1711.7 L715.3,1711.0 L717.6,1710.3 L719.9,1709.5 L722.1,1708.7 L724.3,1707.8 L726.5,1706.9 L728.6,1706.0 L730.7,1705.0 L732.7,1704.0 L734.7,1703.0 L736.7,1701.9 L738.6,1700.9 L740.5,1699.8 L742.4,1698.8 L744.2,1697.7 L746.0,1696.7 L747.8,1695.7 L749.5,1694.8 L751.2,1693.7 L753.0,1692.7 L754.8,1691.5 L756.6,1690.4 L758.3,1689.2 L760.0,1688.1 L761.7,1686.9 L763.3,1685.8 L764.9,1684.7 L766.4,1683.7 L767.8,1682.7 L769.0,1681.7 L770.2,1680.9 L771.3,1680.1 L772.2,1679.5 L772.9,1679.0 L768.1,1672.0 L767.2,1672.6 L766.3,1673.3 L765.2,1674.1 L764.1,1675.0 L762.8,1675.9 L761.5,1677.0 L760.0,1678.0 L758.5,1679.1 L757.0,1680.3 L755.4,1681.4 L753.8,1682.6 L752.1,1683.8 L750.5,1684.9 L748.8,1686.0 L747.2,1687.0 L745.5,1688.0 L743.8,1689.1 L742.1,1690.1 L740.4,1691.2 L738.6,1692.2 L736.8,1693.3 L735.0,1694.4 L733.1,1695.4 L731.3,1696.5 L729.4,1697.5 L727.4,1698.5 L725.5,1699.5 L723.5,1700.4 L721.5,1701.3 L719.5,1702.2 L717.5,1703.0 L715.4,1703.7 L713.3,1704.4 L711.0,1705.1 L708.7,1705.8 L706.3,1706.5 L703.9,1707.1 L701.4,1707.7 L699.0,1708.3 L696.4,1708.8 L693.9,1709.3 L691.4,1709.7 L689.0,1710.2 L686.5,1710.6 L684.1,1710.9 L681.8,1711.3 L679.5,1711.5 L677.3,1711.8 L675.2,1712.0 L673.1,1712.1 L671.1,1712.2 L669.0,1712.3 L667.0,1712.3 L665.1,1712.3 L663.1,1712.3 L661.2,1712.2 L659.3,1712.1 L657.4,1712.0 L655.6,1711.8 L653.8,1711.6 L652.1,1711.4 L650.4,1711.2 L648.7,1710.9 L647.1,1710.7 L645.5,1710.4 L643.9,1710.0 L642.3,1709.6 L640.7,1709.2 L639.2,1708.7 L637.6,1708.1 L636.1,1707.6 L634.7,1707.0 L633.2,1706.4 L631.9,1705.9 L630.6,1705.3 L629.4,1704.8 L628.3,1704.4 L627.3,1704.0 L626.4,1703.6 L625.6,1703.3Z" fill="#d93d4c"/><path d="M747.5,1675.0 L770.5,1675.5 L765.0,1694.5" fill="none" stroke="#d93d4c" stroke-width="6.5" stroke-linecap="round" stroke-linejoin="round"/>
</g>
<g id="labels">
<text transform="translate(202.40,443.20) scale(0.9281,1)">PASSIVE COOLING</text>
<text transform="translate(202.38,497.50) scale(0.9337,1)">FINS</text>
<text transform="translate(12.05,693.40) scale(1.0474,1)">30mm</text>
<text transform="translate(10.93,747.30) scale(0.9448,1)">PWM FAN</text>
<text transform="translate(861.10,549.20) scale(0.9423,1)">OPEN-ACCESS</text>
<text transform="translate(861.69,602.80) scale(0.9181,1)">TO ALL PORTS</text>
<text transform="translate(1774.79,549.00) scale(0.9531,1)">EXHAUST</text>
<text transform="translate(1777.78,602.80) scale(0.9312,1)">VENTS</text>
<text transform="translate(1143.92,1116.20) scale(0.9350,1)">SIDE-AIR</text>
<text transform="translate(1142.82,1170.00) scale(0.9224,1)">INTAKE VENTS</text>
<text transform="translate(295.61,1288.00) scale(0.8968,1)">SPACE GRADE</text>
<text transform="translate(296.90,1339.80) scale(0.9758,1)">ALUMINUM</text>
<text transform="translate(1419.26,1282.80) scale(0.9163,1)">POWER</text>
<text transform="translate(1419.05,1336.80) scale(0.9630,1)">BUTTON</text>
<text transform="translate(295.09,1613.00) scale(0.9766,1)">MOUNTING</text>
<text transform="translate(295.94,1667.30) scale(0.9236,1)">SCREW POINTS</text>
<text transform="translate(1423.25,1613.00) scale(0.9224,1)">SD CARD</text>
<text transform="translate(1422.99,1665.00) scale(0.9184,1)">COVER</text>
</g>
</svg>
</body></html>
